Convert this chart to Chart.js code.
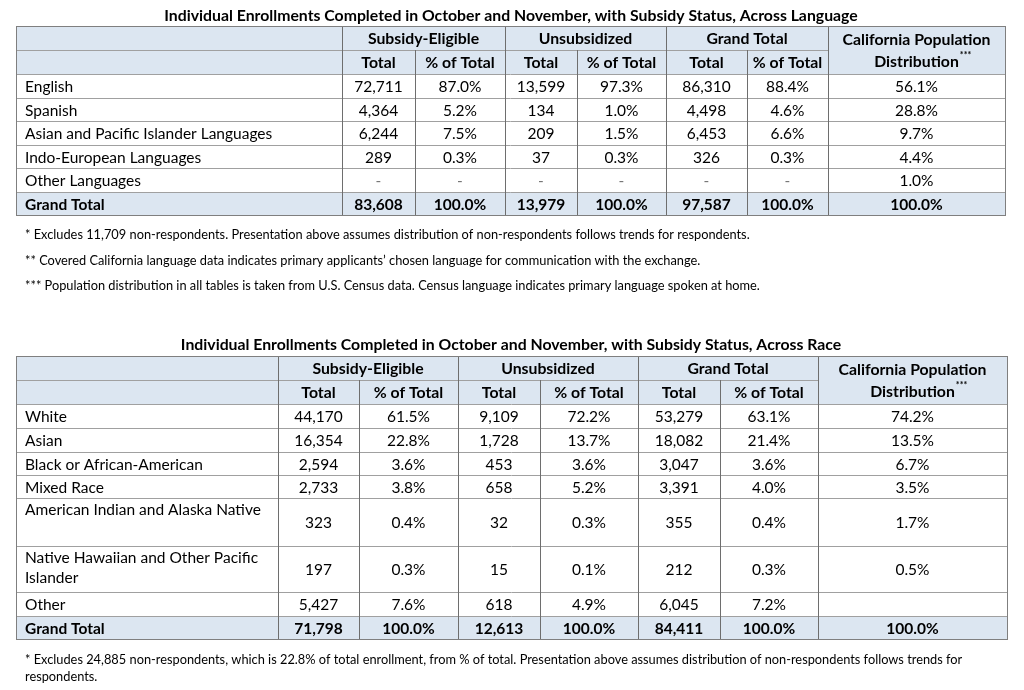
<!DOCTYPE html>
<html>
<head>
<meta charset="utf-8">
<script src="https://cdn.jsdelivr.net/npm/chart.js@4.4.0/dist/chart.umd.min.js"></script>
<style>
  html, body { margin: 0; padding: 0; background: #ffffff; }
  #wrap { width: 1024px; height: 690px; }
</style>
</head>
<body>
<div id="wrap"><canvas id="tables" width="1024" height="690"></canvas></div>
<script>
// ---- Table 1: language ----
const langTitle = "Individual Enrollments Completed in October and November, with Subsidy Status, Across Language";
const langCategories = ["English", "Spanish", "Asian and Pacific Islander Languages", "Indo-European Languages", "Other Languages"];
const langEligibleTotal = [72711, 4364, 6244, 289, null];
const langEligiblePct = [87.0, 5.2, 7.5, 0.3, null];
const langUnsubTotal = [13599, 134, 209, 37, null];
const langUnsubPct = [97.3, 1.0, 1.5, 0.3, null];
const langGrandTotal = [86310, 4498, 6453, 326, null];
const langGrandPct = [88.4, 4.6, 6.6, 0.3, null];
const langCaPop = [56.1, 28.8, 9.7, 4.4, 1.0];
const langTotals = [83608, 100.0, 13979, 100.0, 97587, 100.0, 100.0];
const langNotes = [
  "* Excludes 11,709 non-respondents. Presentation above assumes distribution of non-respondents follows trends for respondents.",
  "** Covered California language data indicates primary applicants\u2019 chosen language for communication with the exchange.",
  "*** Population distribution in all tables is taken from U.S. Census data. Census language indicates primary language spoken at home."
];

// ---- Table 2: race ----
const raceTitle = "Individual Enrollments Completed in October and November, with Subsidy Status, Across Race";
const raceCategories = ["White", "Asian", "Black or African-American", "Mixed Race", "American Indian and Alaska Native", "Native Hawaiian and Other Pacific Islander", "Other"];
const raceEligibleTotal = [44170, 16354, 2594, 2733, 323, 197, 5427];
const raceEligiblePct = [61.5, 22.8, 3.6, 3.8, 0.4, 0.3, 7.6];
const raceUnsubTotal = [9109, 1728, 453, 658, 32, 15, 618];
const raceUnsubPct = [72.2, 13.7, 3.6, 5.2, 0.3, 0.1, 4.9];
const raceGrandTotal = [53279, 18082, 3047, 3391, 355, 212, 6045];
const raceGrandPct = [63.1, 21.4, 3.6, 4.0, 0.4, 0.3, 7.2];
const raceCaPop = [74.2, 13.5, 6.7, 3.5, 1.7, 0.5, null];
const raceTotals = [71798, 100.0, 12613, 100.0, 84411, 100.0, 100.0];
const raceNotes = [
  "* Excludes 24,885 non-respondents, which is 22.8% of total enrollment, from % of total. Presentation above assumes distribution of non-respondents follows trends for",
  "respondents."
];

// ---- shared header labels ----
const groupHeaders = ["Subsidy-Eligible", "Unsubsidized", "Grand Total"];
const subHeaders = ["Total", "% of Total"];
const caHeader = ["California Population", "Distribution"];
const totalLabel = "Grand Total";

const FONT = "Lato, 'DejaVu Sans', sans-serif";
const HEAD_FILL = "#dce6f1";
const LINE_H = "#a0a0a0";
const LINE_V = "#6e6e6e";
const LINE_OUT = "#7f7f7f";

function fmtInt(v, empty) {
  return v === null ? empty : v.toLocaleString("en-US");
}
function fmtPct(v, empty) {
  return v === null ? empty : v.toFixed(1) + "%";
}

const tableSpecs = [
  {
    title: langTitle,
    categories: langCategories,
    columns: [langEligibleTotal, langEligiblePct, langUnsubTotal, langUnsubPct, langGrandTotal, langGrandPct, langCaPop],
    totals: langTotals,
    notes: langNotes,
    empty: "-",
    // layout (page units)
    titleY: 16,
    cols: [16, 342, 415, 505, 577, 666, 747, 828, 1005],
    rows: [26, 50, 74, 98, 121, 145, 168, 192, 215],
    notesY: [235, 261, 286],
    notesFont: 12.8
  },
  {
    title: raceTitle,
    categories: raceCategories,
    columns: [raceEligibleTotal, raceEligiblePct, raceUnsubTotal, raceUnsubPct, raceGrandTotal, raceGrandPct, raceCaPop],
    totals: raceTotals,
    notes: raceNotes,
    empty: "",
    titleY: 345,
    cols: [16, 278, 359, 458, 540, 638, 720, 818, 1007],
    rows: [356, 380, 404, 428, 452, 475, 498, 546, 592, 616, 639],
    notesY: [660, 677],
    notesFont: 12.8
  }
];

function wrapText(ctx, text, maxW) {
  const words = text.split(" ");
  const lines = [];
  let cur = "";
  words.forEach((w) => {
    const test = cur ? cur + " " + w : w;
    if (ctx.measureText(test).width > maxW && cur) {
      lines.push(cur);
      cur = w;
    } else {
      cur = test;
    }
  });
  if (cur) lines.push(cur);
  return lines;
}

function drawTable(chart, spec) {
  const ctx = chart.ctx;
  const xs = chart.scales.x;
  const ys = chart.scales.y;
  const cx = spec.cols.map((v) => Math.round(xs.getPixelForValue(v)));
  const ry = spec.rows.map((v) => Math.round(ys.getPixelForValue(v)));
  const left = cx[0], right = cx[cx.length - 1];
  const top = ry[0], bottom = ry[ry.length - 1];
  const nRows = ry.length;

  ctx.save();
  ctx.textBaseline = "middle";
  ctx.fillStyle = "#000";

  // title
  ctx.font = "bold 15.8px " + FONT;
  ctx.textAlign = "center";
  ctx.fillText(spec.title, xs.getPixelForValue(511), ys.getPixelForValue(spec.titleY));

  // header and total fills
  ctx.fillStyle = HEAD_FILL;
  ctx.fillRect(left, top, right - left, ry[2] - top);
  ctx.fillRect(left, ry[nRows - 2], right - left, bottom - ry[nRows - 2]);

  // horizontal lines
  ctx.lineWidth = 1;
  ctx.strokeStyle = LINE_H;
  ctx.beginPath();
  for (let i = 1; i < nRows - 1; i++) {
    const x2 = i === 1 ? cx[7] : right;
    ctx.moveTo(left, ry[i] + 0.5);
    ctx.lineTo(x2, ry[i] + 0.5);
  }
  ctx.stroke();

  // vertical lines
  ctx.strokeStyle = LINE_V;
  ctx.beginPath();
  for (let j = 1; j < cx.length - 1; j++) {
    const y1 = (j === 2 || j === 4 || j === 6) ? ry[1] : top;
    ctx.moveTo(cx[j] + 0.5, y1);
    ctx.lineTo(cx[j] + 0.5, bottom);
  }
  ctx.stroke();

  // outer border
  ctx.strokeStyle = LINE_OUT;
  ctx.strokeRect(left + 0.5, top + 0.5, right - left, bottom - top);

  // header text
  ctx.fillStyle = "#000";
  ctx.font = "bold 15.8px " + FONT;
  ctx.textAlign = "center";
  const h1 = (top + ry[1]) / 2 + 1;
  const h2 = (ry[1] + ry[2]) / 2 + 1;
  groupHeaders.forEach((g, k) => {
    ctx.fillText(g, (cx[1 + 2 * k] + cx[3 + 2 * k]) / 2, h1);
    subHeaders.forEach((s, m) => {
      ctx.fillText(s, (cx[1 + 2 * k + m] + cx[2 + 2 * k + m]) / 2, h2);
    });
  });
  const caX = (cx[7] + cx[8]) / 2;
  ctx.fillText(caHeader[0], caX, h1 + 1);
  ctx.fillText(caHeader[1], caX, h2 - 1);
  const dW = ctx.measureText(caHeader[1]).width;
  ctx.font = "bold 9px " + FONT;
  ctx.textAlign = "left";
  ctx.fillText("***", caX + dW / 2 + 1, h2 - 8);

  // data rows
  ctx.font = "15.5px " + FONT;
  spec.categories.forEach((cat, i) => {
    const y0 = ry[2 + i], y1 = ry[3 + i];
    const mid = (y0 + y1) / 2 + 1;
    const tall = y1 - y0 > 30;
    ctx.textAlign = "left";
    const lines = wrapText(ctx, cat, cx[1] - cx[0] - 16);
    lines.forEach((ln, k) => {
      const ly = tall ? y0 + 12 + k * 20 : mid;
      ctx.fillText(ln, left + 9, ly);
    });
    ctx.textAlign = "center";
    spec.columns.forEach((col, c) => {
      const isPct = c % 2 === 1 || c === 6;
      const txt = isPct ? fmtPct(col[i], spec.empty) : fmtInt(col[i], spec.empty);
      ctx.fillStyle = txt === "-" ? "#777" : "#000";
      ctx.fillText(txt, (cx[1 + c] + cx[2 + c]) / 2, mid);
      ctx.fillStyle = "#000";
    });
  });

  // grand total row
  const tMid = (ry[nRows - 2] + bottom) / 2 + 1;
  ctx.font = "bold 15.5px " + FONT;
  ctx.textAlign = "left";
  ctx.fillText(totalLabel, left + 9, tMid);
  ctx.textAlign = "center";
  spec.totals.forEach((v, c) => {
    const isPct = c % 2 === 1 || c === 6;
    const txt = isPct ? fmtPct(v, spec.empty) : fmtInt(v, spec.empty);
    ctx.fillText(txt, (cx[1 + c] + cx[2 + c]) / 2, tMid);
  });

  // footnotes
  ctx.font = spec.notesFont + "px " + FONT;
  ctx.textAlign = "left";
  spec.notes.forEach((n, k) => {
    ctx.fillText(n, xs.getPixelForValue(25), ys.getPixelForValue(spec.notesY[k]));
  });

  ctx.restore();
}

const tablePlugin = {
  id: "enrollmentTables",
  afterDraw(chart) {
    tableSpecs.forEach((spec) => drawTable(chart, spec));
  }
};

const ctx = document.getElementById("tables").getContext("2d");
new Chart(ctx, {
  type: "scatter",
  data: { datasets: [] },
  options: {
    responsive: false,
    animation: false,
    events: [],
    layout: { padding: 0 },
    plugins: {
      legend: { display: false },
      tooltip: { enabled: false }
    },
    scales: {
      x: { type: "linear", min: 0, max: 1024, display: false },
      y: { type: "linear", min: 0, max: 690, reverse: true, display: false }
    }
  },
  plugins: [tablePlugin]
});
</script>
</body>
</html>
